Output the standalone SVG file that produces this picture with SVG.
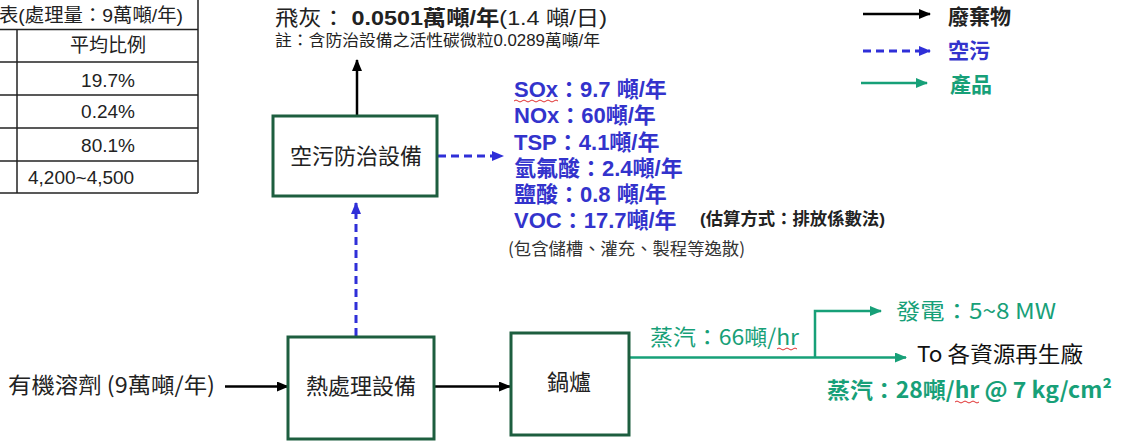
<svg xmlns="http://www.w3.org/2000/svg" width="1130" height="442" viewBox="0 0 1130 442">
<style>
.cjk{font-family:"Noto Sans CJK TC","Noto Sans",sans-serif;}
.arl{font-family:"Liberation Sans","Noto Sans CJK TC",sans-serif;}
.box{fill:#fff;stroke:#1d5e3f;stroke-width:3;}
.lbl{font-family:"Noto Sans CJK TC",sans-serif;font-size:22px;fill:#222;text-anchor:middle;}
.blk{stroke:#000;stroke-width:2.5;fill:none;}
.blu{stroke:#2f2fd8;stroke-width:3;fill:none;stroke-dasharray:8 5;}
.grn{stroke:#17a078;stroke-width:2.5;fill:none;}
.tbl{stroke:#222;stroke-width:1.5;}
.tt{font-family:"Liberation Sans","Noto Sans CJK TC",sans-serif;font-size:19px;fill:#222;}
.em{font-family:"Liberation Sans","Noto Sans CJK TC",sans-serif;font-size:22px;font-weight:bold;fill:#3333cc;}
.sq{stroke:#e03030;stroke-width:1;fill:none;}
</style>
<defs>
<marker id="ab" markerUnits="userSpaceOnUse" markerWidth="12" markerHeight="10" refX="11" refY="5" orient="auto"><path d="M0,0 L12,5 L0,10 Z" fill="#000"/></marker>
<marker id="au" markerUnits="userSpaceOnUse" markerWidth="12" markerHeight="10" refX="11" refY="5" orient="auto"><path d="M0,0 L12,5 L0,10 Z" fill="#2f2fd8"/></marker>
<marker id="ag" markerUnits="userSpaceOnUse" markerWidth="12" markerHeight="10" refX="11" refY="5" orient="auto"><path d="M0,0 L12,5 L0,10 Z" fill="#17a078"/></marker>
</defs>
<rect width="1130" height="442" fill="#fff"/>

<g id="table">
<line class="tbl" x1="0" y1="29.5" x2="198" y2="29.5"/>
<line class="tbl" x1="0" y1="62" x2="198" y2="62"/>
<line class="tbl" x1="0" y1="95" x2="198" y2="95"/>
<line class="tbl" x1="0" y1="128" x2="198" y2="128"/>
<line class="tbl" x1="0" y1="161" x2="198" y2="161"/>
<line class="tbl" x1="0" y1="193" x2="198" y2="193"/>
<line class="tbl" x1="17" y1="29.5" x2="17" y2="193"/>
<line class="tbl" x1="198" y1="0" x2="198" y2="193"/>
<text class="tt" x="183" y="22" text-anchor="end" textLength="184" lengthAdjust="spacingAndGlyphs">表(處理量：9萬噸/年)</text>
<text class="tt" x="108" y="52" text-anchor="middle">平均比例</text>
<text class="tt" x="108" y="87" text-anchor="middle">19.7%</text>
<text class="tt" x="108" y="118" text-anchor="middle">0.24%</text>
<text class="tt" x="108" y="152" text-anchor="middle">80.1%</text>
<text class="tt" x="28" y="184">4,200~4,500</text>
</g>

<g id="legend">
<line class="blk" x1="863" y1="14" x2="930" y2="14" marker-end="url(#ab)"/>
<text class="cjk" x="948" y="24" font-size="21" font-weight="bold" fill="#222">廢棄物</text>
<line class="blu" x1="863" y1="51" x2="930" y2="51" marker-end="url(#au)"/>
<text class="cjk" x="948" y="58" font-size="21" font-weight="bold" fill="#3333cc">空污</text>
<line class="grn" x1="861" y1="83" x2="927" y2="83" marker-end="url(#ag)"/>
<text class="cjk" x="950" y="92" font-size="21" font-weight="bold" fill="#17a078">產品</text>
</g>

<g id="connectors">
<line class="blk" x1="225" y1="386.5" x2="288" y2="386.5" marker-end="url(#ab)"/>
<line class="blk" x1="434" y1="386.5" x2="510" y2="386.5" marker-end="url(#ab)"/>
<line class="blu" x1="356" y1="336" x2="356" y2="203" marker-end="url(#au)"/>
<line class="blu" x1="438" y1="156" x2="503" y2="156" marker-end="url(#au)"/>
<line class="blk" x1="357" y1="115" x2="357" y2="60" marker-end="url(#ab)"/>
<line class="grn" x1="630" y1="357.5" x2="906" y2="357.5" marker-end="url(#ag)"/>
<path class="grn" d="M815,357.5 V311 H881" marker-end="url(#ag)"/>
</g>

<g id="node-input">
<text class="cjk" x="8" y="393" font-size="22" fill="#222" textLength="207" lengthAdjust="spacingAndGlyphs">有機溶劑 (9萬噸/年)</text>
</g>

<g id="node-thermal">
<rect class="box" x="288" y="337" width="146" height="102"/>
<text class="lbl" x="361" y="394">熱處理設備</text>
</g>

<g id="node-boiler">
<rect class="box" x="511" y="333" width="118" height="102"/>
<text class="lbl" x="569" y="390">鍋爐</text>
</g>

<g id="node-apc">
<rect class="box" x="273" y="116" width="164" height="80"/>
<text class="lbl" x="356" y="164">空污防治設備</text>
</g>

<g id="node-flyash">
<text class="arl" x="275" y="25" font-size="21" fill="#222" textLength="332" lengthAdjust="spacingAndGlyphs">飛灰： <tspan font-weight="bold">0.0501萬噸/年</tspan>(1.4 噸/日)</text>
<text class="arl" x="275" y="46" font-size="16" fill="#222" textLength="325" lengthAdjust="spacingAndGlyphs">註：含防治設備之活性碳微粒0.0289萬噸/年</text>
</g>

<g id="node-emissions">
<text class="em" x="514" y="97">SOx：9.7 噸/年</text>
<path class="sq" d="M514,101 q2,-2 4,0 t4,0 t4,0 t4,0 t4,0 t4,0 t4,0 t4,0 t4,0 t4,0 t4,0"/>
<text class="em" x="514" y="123">NOx：60噸/年</text>
<text class="em" x="514" y="150">TSP：4.1噸/年</text>
<text class="em" x="514" y="176">氫氟酸：2.4噸/年</text>
<text class="em" x="514" y="202">鹽酸：0.8 噸/年</text>
<text class="em" x="514" y="228">VOC：17.7噸/年</text>
<text class="arl" x="700" y="225" font-size="17" font-weight="bold" fill="#222" textLength="185" lengthAdjust="spacingAndGlyphs">(估算方式：排放係數法)</text>
<text class="cjk" x="508" y="255" font-size="17" fill="#333" textLength="237" lengthAdjust="spacingAndGlyphs">(包含儲槽、灌充、製程等逸散)</text>
</g>

<g id="node-steam">
<text class="cjk" x="650" y="345" font-size="22" fill="#17a078" textLength="149" lengthAdjust="spacingAndGlyphs">蒸汽：66噸/hr</text>
<path class="sq" d="M777,349 q2,-2 4,0 t4,0 t4,0 t4,0 t4,0"/>
<text class="cjk" x="896" y="319" font-size="22" fill="#17a078" textLength="160" lengthAdjust="spacingAndGlyphs">發電：5~8 MW</text>
<text class="cjk" x="917" y="362" font-size="22" fill="#111" textLength="166" lengthAdjust="spacingAndGlyphs">To 各資源再生廠</text>
<text class="cjk" x="827" y="398" font-size="22" font-weight="bold" fill="#17a078" textLength="285" lengthAdjust="spacingAndGlyphs">蒸汽：28噸/hr @ 7 kg/cm²</text>
<path class="sq" d="M955,402 q2,-2 4,0 t4,0 t4,0 t4,0 t4,0 t4,0"/>
</g>
</svg>
